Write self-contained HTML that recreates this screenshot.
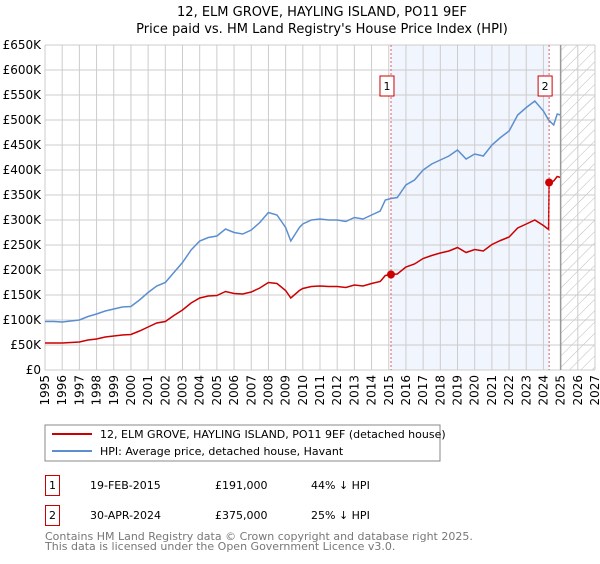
<!DOCTYPE html>
<html><head><meta charset="utf-8"><style>
body{margin:0;background:#fff;font-family:"DejaVu Sans","Liberation Sans",sans-serif;}
svg text{font-family:"DejaVu Sans","Liberation Sans",sans-serif;}
</style></head><body>
<svg id="c" width="600" height="560" xmlns="http://www.w3.org/2000/svg">
<defs><pattern id="hatch" width="8" height="8" patternUnits="userSpaceOnUse" patternTransform="rotate(45)"><line x1="0" y1="0" x2="0" y2="8" stroke="#bbb" stroke-width="1"/></pattern></defs>
<text x="322" y="16" text-anchor="middle" font-size="13">12, ELM GROVE, HAYLING ISLAND, PO11 9EF</text>
<text x="322" y="33" text-anchor="middle" font-size="13">Price paid vs. HM Land Registry's House Price Index (HPI)</text>
<g id="grid"></g><g id="marks"></g><g id="axes"></g>
<rect x="45" y="425" width="395" height="36" fill="#fff" stroke="#888"/>
<line x1="52" y1="434" x2="92" y2="434" stroke="#cc0000" stroke-width="2"/>
<text x="100" y="438" font-size="11">12, ELM GROVE, HAYLING ISLAND, PO11 9EF (detached house)</text>
<line x1="52" y1="451" x2="92" y2="451" stroke="#5b8fd0" stroke-width="2"/>
<text x="100" y="455" font-size="11">HPI: Average price, detached house, Havant</text>
<g>
<rect x="45.5" y="475.5" width="14" height="20" fill="#fff" stroke="#cc0000"/>
<text x="52.5" y="489" font-size="11" text-anchor="middle">1</text>
<text x="90" y="489" font-size="11">19-FEB-2015</text>
<text x="215" y="489" font-size="11">£191,000</text>
<text x="311" y="489" font-size="11">44% ↓ HPI</text></g>
<g>
<rect x="45.5" y="505.5" width="14" height="20" fill="#fff" stroke="#cc0000"/>
<text x="52.5" y="519" font-size="11" text-anchor="middle">2</text>
<text x="90" y="519" font-size="11">30-APR-2024</text>
<text x="215" y="519" font-size="11">£375,000</text>
<text x="311" y="519" font-size="11">25% ↓ HPI</text></g>
<text x="45" y="540" font-size="11" fill="#777">Contains HM Land Registry data © Crown copyright and database right 2025.</text>
<text x="45" y="550" font-size="11" fill="#777">This data is licensed under the Open Government Licence v3.0.</text>
</svg>
<script>
const hpiYears=[1995,1995.5,1996,1996.5,1997,1997.5,1998,1998.5,1999,1999.5,2000,2000.5,2001,2001.5,2002,2002.5,2003,2003.5,2004,2004.5,2005,2005.5,2006,2006.5,2007,2007.5,2008,2008.5,2009,2009.3,2009.8,2010,2010.5,2011,2011.5,2012,2012.5,2013,2013.5,2014,2014.5,2014.8,2015.13,2015.5,2016,2016.5,2017,2017.5,2018,2018.5,2019,2019.5,2020,2020.5,2021,2021.5,2022,2022.5,2023,2023.5,2024,2024.3,2024.6,2024.8,2025];
const hpiValues=[97,97,96,98,100,107,112,118,122,126,127,140,155,168,175,195,215,240,258,265,268,282,275,272,280,295,315,310,285,258,285,292,300,302,300,300,297,305,302,310,318,340,343,345,370,380,400,412,420,428,440,422,432,428,450,465,478,510,525,538,518,500,490,512,510];
const priceYears=[1995,1995.5,1996,1996.5,1997,1997.5,1998,1998.5,1999,1999.5,2000,2000.5,2001,2001.5,2002,2002.5,2003,2003.5,2004,2004.5,2005,2005.5,2006,2006.5,2007,2007.5,2008,2008.5,2009,2009.3,2009.8,2010,2010.5,2011,2011.5,2012,2012.5,2013,2013.5,2014,2014.5,2014.8,2015.13,2015.5,2016,2016.5,2017,2017.5,2018,2018.5,2019,2019.5,2020,2020.5,2021,2021.5,2022,2022.5,2023,2023.5,2024,2024.3,2024.33,2024.6,2024.8,2025];
const priceValues=[54,54,54,55,56,60,62,66,68,70,71,78,86,94,97,109,120,134,144,148,149,157,153,152,156,164,175,173,159,144,159,163,167,168,167,167,165,170,168,173,177,189,191,192,206,212,223,229,234,238,245,235,241,238,251,259,266,284,292,300,289,281,375,378,387,385];
const saleYears=[2015.13,2024.33];
const saleValues=[191,375];
const saleLabels=["1","2"];
const yTicks=[0,50,100,150,200,250,300,350,400,450,500,550,600,650];
const xTicks=[];for(let y=1995;y<=2027;y++)xTicks.push(y);
const NS="http://www.w3.org/2000/svg";
const X0=45,X1=595,Y0=370,Y1=45;
const xs=y=>X0+(y-1995)/32*(X1-X0);
const ys=v=>Y0-v/650*(Y0-Y1);
function mk(parent,tag,attrs){const e=document.createElementNS(NS,tag);for(const k in attrs)e.setAttribute(k,attrs[k]);document.getElementById(parent).appendChild(e);return e;}
let sh=mk('grid','rect',{x:xs(saleYears[0]),y:Y1,width:xs(saleYears[1])-xs(saleYears[0]),height:Y0-Y1,fill:'#eef3fc',opacity:0.8});


let ht=mk('grid','rect',{x:xs(2025),y:Y1,width:X1-xs(2025),height:Y0-Y1,fill:'url(#hatch)'});


yTicks.forEach(v=>{
 let l=mk('grid','line',{x1:X0,x2:X1,y1:ys(v),y2:ys(v),stroke:'#ccc','stroke-width':1});
 
 
 let t=mk('axes','text',{x:X0-4,y:ys(v)+4,'text-anchor':'end','font-size':12});
 
 
 t.textContent=v===0?'£0':'£'+v+'K';
});
xTicks.forEach(y=>{
 let l=mk('grid','line',{x1:xs(y),x2:xs(y),y1:Y1,y2:Y0,stroke:'#ccc','stroke-width':1});
 
 
 let t=mk('axes','text',{x:0,y:0,'text-anchor':'end','font-size':12,transform:`translate(${xs(y)+4},${Y0+5}) rotate(-90)`});
 
 
 t.textContent=y;
});
let bl=mk('axes','line',{x1:xs(2025),x2:xs(2025),y1:Y1,y2:Y0,stroke:'#999','stroke-width':1.5});


const path=(xa,va)=>xa.map((y,i)=>(i?'L':'M')+xs(y).toFixed(1)+','+ys(va[i]).toFixed(1)).join('');
let hp=mk('marks','path',{d:path(hpiYears,hpiValues),fill:'none',stroke:'#5b8fd0','stroke-width':1.5});


let pp=mk('marks','path',{d:path(priceYears,priceValues),fill:'none',stroke:'#cc0000','stroke-width':1.5});


saleYears.forEach((y,i)=>{
 let v=mk('marks','line',{x1:xs(y),x2:xs(y),y1:Y1,y2:Y0,stroke:'#e06060','stroke-width':1,'stroke-dasharray':'2,2'});
 
 
 let d=mk('marks','circle',{cx:xs(y),cy:ys(saleValues[i]),r:4,fill:'#cc0000'});
 
 
 let b=mk('marks','rect',{x:xs(y)-11,y:76,width:14,height:20,fill:'#fff',stroke:'#cc0000'});
 
 
 let t=mk('marks','text',{x:xs(y)-4,y:90,'text-anchor':'middle','font-size':11});
 
 
 t.textContent=saleLabels[i];
});
</script>
</body></html>
